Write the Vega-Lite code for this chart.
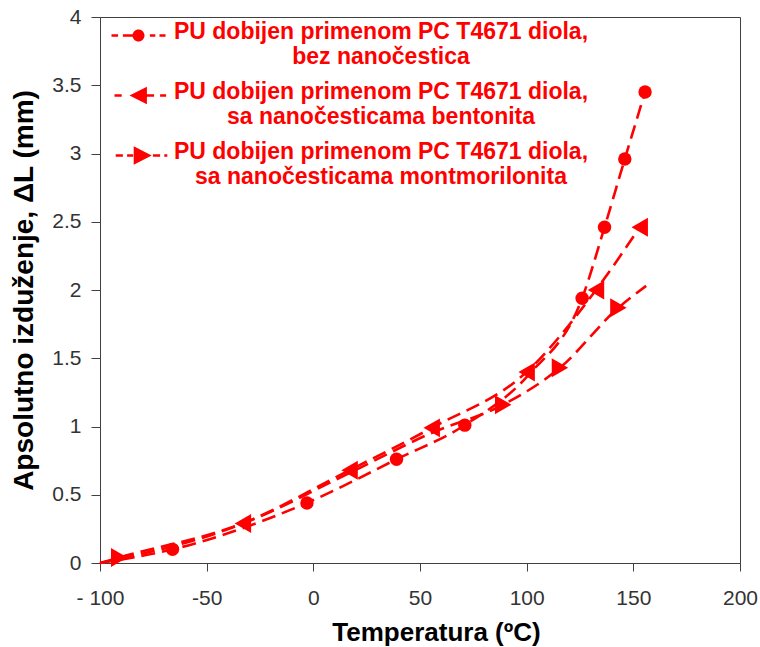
{
  "$schema": "https://vega.github.io/schema/vega-lite/v6.json",
  "width": 640,
  "height": 546,
  "autosize": "none",
  "padding": {"left": 100, "top": 17, "right": 20, "bottom": 84},
  "background": "white",
  "config": {
    "view": {"stroke": "#404040", "strokeWidth": 1},
    "axis": {"grid": false},
    "legend": {
      "title": null,
      "orient": "none",
      "legendX": 27,
      "legendY": -8,
      "padding": 0,
      "symbolSize": 144,
      "symbolStrokeWidth": 0,
      "rowPadding": -6,
      "labelFont": "Liberation Sans",
      "labelFontSize": 23,
      "labelFontWeight": "bold",
      "labelColor": "#ff0000",
      "labelAlign": "center",
      "labelBaseline": "top",
      "labelOffset": 231,
      "labelLimit": 0
    }
  },
  "datasets": {
    "points": [
      {"series": "PU dobijen primenom PC T4671 diola, bez nanočestica", "t": -66, "dl": 0.10},
      {"series": "PU dobijen primenom PC T4671 diola, bez nanočestica", "t": -3, "dl": 0.44},
      {"series": "PU dobijen primenom PC T4671 diola, bez nanočestica", "t": 39, "dl": 0.76},
      {"series": "PU dobijen primenom PC T4671 diola, bez nanočestica", "t": 71, "dl": 1.01},
      {"series": "PU dobijen primenom PC T4671 diola, bez nanočestica", "t": 126, "dl": 1.94},
      {"series": "PU dobijen primenom PC T4671 diola, bez nanočestica", "t": 136.5, "dl": 2.46},
      {"series": "PU dobijen primenom PC T4671 diola, bez nanočestica", "t": 146, "dl": 2.96},
      {"series": "PU dobijen primenom PC T4671 diola, bez nanočestica", "t": 155.5, "dl": 3.45},
      {"series": "PU dobijen primenom PC T4671 diola, sa nanočesticama bentonita", "t": -33, "dl": 0.29},
      {"series": "PU dobijen primenom PC T4671 diola, sa nanočesticama bentonita", "t": 17, "dl": 0.68},
      {"series": "PU dobijen primenom PC T4671 diola, sa nanočesticama bentonita", "t": 55.5, "dl": 0.99},
      {"series": "PU dobijen primenom PC T4671 diola, sa nanočesticama bentonita", "t": 100, "dl": 1.40},
      {"series": "PU dobijen primenom PC T4671 diola, sa nanočesticama bentonita", "t": 132.5, "dl": 2.0},
      {"series": "PU dobijen primenom PC T4671 diola, sa nanočesticama bentonita", "t": 153, "dl": 2.46},
      {"series": "PU dobijen primenom PC T4671 diola, sa nanočesticama montmorilonita", "t": -91, "dl": 0.04},
      {"series": "PU dobijen primenom PC T4671 diola, sa nanočesticama montmorilonita", "t": 89, "dl": 1.16},
      {"series": "PU dobijen primenom PC T4671 diola, sa nanočesticama montmorilonita", "t": 115.6, "dl": 1.43},
      {"series": "PU dobijen primenom PC T4671 diola, sa nanočesticama montmorilonita", "t": 143, "dl": 1.87}
    ],
    "curve": [
      {"series": "PU dobijen primenom PC T4671 diola, bez nanočestica", "t": -100, "dl": 0},
      {"series": "PU dobijen primenom PC T4671 diola, bez nanočestica", "t": -66, "dl": 0.10},
      {"series": "PU dobijen primenom PC T4671 diola, bez nanočestica", "t": -3, "dl": 0.44},
      {"series": "PU dobijen primenom PC T4671 diola, bez nanočestica", "t": 39, "dl": 0.76},
      {"series": "PU dobijen primenom PC T4671 diola, bez nanočestica", "t": 71, "dl": 1.01},
      {"series": "PU dobijen primenom PC T4671 diola, bez nanočestica", "t": 101, "dl": 1.38},
      {"series": "PU dobijen primenom PC T4671 diola, bez nanočestica", "t": 126, "dl": 1.94},
      {"series": "PU dobijen primenom PC T4671 diola, bez nanočestica", "t": 136.5, "dl": 2.46},
      {"series": "PU dobijen primenom PC T4671 diola, bez nanočestica", "t": 146, "dl": 2.96},
      {"series": "PU dobijen primenom PC T4671 diola, bez nanočestica", "t": 155.5, "dl": 3.45},
      {"series": "PU dobijen primenom PC T4671 diola, sa nanočesticama bentonita", "t": -100, "dl": 0},
      {"series": "PU dobijen primenom PC T4671 diola, sa nanočesticama bentonita", "t": -33, "dl": 0.29},
      {"series": "PU dobijen primenom PC T4671 diola, sa nanočesticama bentonita", "t": 17, "dl": 0.68},
      {"series": "PU dobijen primenom PC T4671 diola, sa nanočesticama bentonita", "t": 55.5, "dl": 0.99},
      {"series": "PU dobijen primenom PC T4671 diola, sa nanočesticama bentonita", "t": 100, "dl": 1.40},
      {"series": "PU dobijen primenom PC T4671 diola, sa nanočesticama bentonita", "t": 132.5, "dl": 2.0},
      {"series": "PU dobijen primenom PC T4671 diola, sa nanočesticama bentonita", "t": 153, "dl": 2.46},
      {"series": "PU dobijen primenom PC T4671 diola, sa nanočesticama montmorilonita", "t": -100, "dl": 0},
      {"series": "PU dobijen primenom PC T4671 diola, sa nanočesticama montmorilonita", "t": -91, "dl": 0.04},
      {"series": "PU dobijen primenom PC T4671 diola, sa nanočesticama montmorilonita", "t": -33, "dl": 0.29},
      {"series": "PU dobijen primenom PC T4671 diola, sa nanočesticama montmorilonita", "t": 17, "dl": 0.66},
      {"series": "PU dobijen primenom PC T4671 diola, sa nanočesticama montmorilonita", "t": 55, "dl": 0.95},
      {"series": "PU dobijen primenom PC T4671 diola, sa nanočesticama montmorilonita", "t": 89, "dl": 1.16},
      {"series": "PU dobijen primenom PC T4671 diola, sa nanočesticama montmorilonita", "t": 115.6, "dl": 1.43},
      {"series": "PU dobijen primenom PC T4671 diola, sa nanočesticama montmorilonita", "t": 143, "dl": 1.87},
      {"series": "PU dobijen primenom PC T4671 diola, sa nanočesticama montmorilonita", "t": 156, "dl": 2.03}
    ]
  },
  "encoding": {
    "x": {
      "field": "t", "type": "quantitative",
      "scale": {"domain": [-100, 200], "nice": false, "zero": false},
      "axis": {
        "title": "Temperatura (ºC)",
        "values": [-100, -50, 0, 50, 100, 150, 200],
        "labelExpr": "datum.value == -100 ? '- 100' : replace(datum.label, '−', '-')",
        "labelFont": "Liberation Sans", "labelFontSize": 21, "labelColor": "#333333",
        "labelPadding": 16, "tickSize": 8, "tickColor": "#404040", "domainColor": "#404040",
        "labelFlush": false, "labelOverlap": false,
        "titleFont": "Liberation Sans", "titleFontSize": 26, "titleFontWeight": "bold", "titleColor": "#000000",
        "titleX": 336, "titleY": 77, "titleAlign": "center", "titleBaseline": "alphabetic"
      }
    },
    "y": {
      "field": "dl", "type": "quantitative",
      "scale": {"domain": [0, 4], "nice": false},
      "axis": {
        "title": "Apsolutno izduženje, ΔL (mm)",
        "values": [0, 0.5, 1, 1.5, 2, 2.5, 3, 3.5, 4],
        "format": "~g",
        "labelFont": "Liberation Sans", "labelFontSize": 21, "labelColor": "#333333",
        "labelPadding": 10, "tickSize": 9, "tickColor": "#404040", "domainColor": "#404040",
        "labelFlush": false, "labelOverlap": false,
        "titleFont": "Liberation Sans", "titleFontSize": 28, "titleFontWeight": "bold", "titleColor": "#000000",
        "titleAngle": -90, "titleX": -68, "titleY": 273, "titleAlign": "center", "titleBaseline": "alphabetic"
      }
    }
  },
  "layer": [
    {
      "data": {"name": "curve"},
      "mark": {"type": "line", "color": "#ff0000", "strokeWidth": 2.6, "strokeDash": [14, 7], "interpolate": "monotone"},
      "encoding": {"detail": {"field": "series", "type": "nominal"}}
    },
    {
      "data": {"name": "points"},
      "transform": [{"filter": "indexof(datum.series, 'bez') >= 0"}],
      "mark": {"type": "point", "shape": "circle", "filled": true, "color": "#ff0000", "opacity": 1, "size": 180}
    },
    {
      "data": {"name": "points"},
      "transform": [{"filter": "indexof(datum.series, 'bentonita') >= 0"}],
      "mark": {"type": "point", "shape": "triangle-left", "filled": true, "color": "#ff0000", "opacity": 1, "size": 360}
    },
    {
      "data": {"name": "points"},
      "transform": [{"filter": "indexof(datum.series, 'montmorilonita') >= 0"}],
      "mark": {"type": "point", "shape": "triangle-right", "filled": true, "color": "#ff0000", "opacity": 1, "size": 360}
    },
    {
      "data": {"name": "points"},
      "transform": [{"filter": "false"}],
      "mark": {"type": "point", "filled": true, "color": "#ff0000", "opacity": 1, "size": 144},
      "encoding": {
        "shape": {
          "field": "series", "type": "nominal",
          "scale": {
            "domain": [
              "PU dobijen primenom PC T4671 diola, bez nanočestica",
              "PU dobijen primenom PC T4671 diola, sa nanočesticama bentonita",
              "PU dobijen primenom PC T4671 diola, sa nanočesticama montmorilonita"
            ],
            "range": [
              "M-4.5,2.28H-3.4V2.72H-4.5Z M-2.6,2.28H-0.9V2.72H-2.6Z M1.9,2.28H2.8V2.72H1.9Z M3.5,2.28H4.5V2.72H3.5Z M1,2.5A1,1,0,1,1,-1,2.5A1,1,0,1,1,1,2.5Z",
              "M-4,2.28H-2.8V2.72H-4Z M-1.5,2.5L1.4,1.05L1.4,3.95Z M1.4,2.28H2.6V2.72H1.4Z M3.6,2.28H4.6V2.72H3.6Z",
              "M-3.8,2.28H-2.6V2.72H-3.8Z M-1.9,2.28H-0.9V2.72H-1.9Z M-0.8,0.95L2.2,2.5L-0.8,4.05Z M2.4,2.28H3.6V2.72H2.4Z M4.3,2.28H4.8V2.72H4.3Z"
            ]
          },
          "legend": {
            "labelExpr": "[slice(datum.label, 0, indexof(datum.label, ', ') + 1), slice(datum.label, indexof(datum.label, ', ') + 2)]"
          }
        }
      }
    }
  ]
}
